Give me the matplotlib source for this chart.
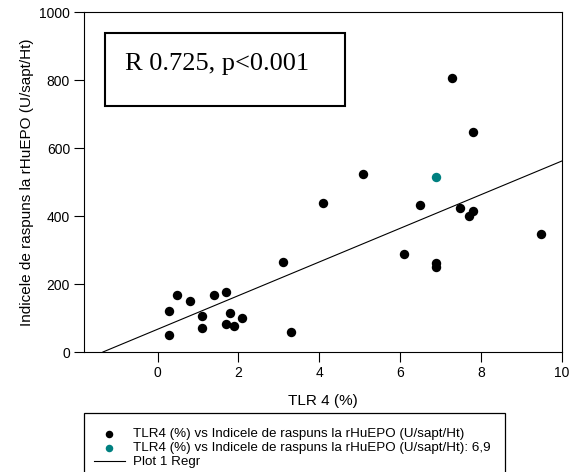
import matplotlib
matplotlib.use("Agg")
import matplotlib.pyplot as plt
import numpy as np

plt.rcParams['font.family'] = ['Liberation Sans', 'DejaVu Sans']

# TLR4 (%) vs response index
tlr4 = [7.29, 7.79, 5.09, 4.09, 6.48, 7.49, 7.79, 7.69, 9.48, 6.09, 6.89, 6.89,
        3.09, 0.49, 0.79, 1.39, 1.69, 0.29, 1.09, 1.79, 2.09, 1.09, 1.69, 1.89,
        0.29, 3.29]
index = [806, 646, 523, 437, 432, 425, 416, 400, 346, 288, 261, 251,
         265, 167, 150, 167, 176, 120, 106, 115, 99, 70, 81, 76,
         49, 60]
tlr4_hl = [6.89]
index_hl = [516]

# regression line
reg_slope = 49.5
reg_intercept = 66.9

W, H = 579, 472
fig = plt.figure(figsize=(W / 100, H / 100), dpi=100)
ax = fig.add_axes([84/W, 1 - 352/H, (562-84)/W, (352-12)/H])

ax.scatter(tlr4, index, s=46, color='black', linewidths=0, zorder=3,
           label='TLR4 (%) vs Indicele de raspuns la rHuEPO (U/sapt/Ht)')
ax.scatter(tlr4_hl, index_hl, s=46, color='#008080', linewidths=0, zorder=3,
           label='TLR4 (%) vs Indicele de raspuns la rHuEPO (U/sapt/Ht): 6,9')
xr = np.array([-reg_intercept / reg_slope, 10])
ax.plot(xr, reg_intercept + reg_slope * xr, color='black', lw=0.8, label='Plot 1 Regr')

ax.set_xlim(-1.82, 10)
ax.set_ylim(0, 1000)
ax.set_xticks([0, 2, 4, 6, 8, 10])
ax.set_yticks([0, 200, 400, 600, 800, 1000])
ax.tick_params(labelsize=10, direction='out', length=7, width=0.8, pad=3)
for s in ax.spines.values():
    s.set_linewidth(0.8)

ax.set_xlabel('TLR 4 (%)', fontsize=11, labelpad=10)
ax.set_ylabel('Indicele de raspuns la rHuEPO (U/sapt/Ht)', fontsize=11, labelpad=4)

# annotation box
fig.add_artist(plt.Rectangle((104.7/W, 1 - 106/H), (345.3-104.7)/W, (106-33.3)/H,
                             transform=fig.transFigure, fill=False, lw=1.5, color='black'))
fig.text(125/W, 1 - 70/H, 'R 0.725, p<0.001', family='Liberation Serif',
         fontsize=19, va='baseline', ha='left')

# legend frame (runs past the bottom edge)
fig.add_artist(plt.Rectangle((84/W, -0.05), (505-84)/W, 1 - 413/H + 0.05,
                             transform=fig.transFigure, fill=False, lw=0.9, color='black'))
leg = fig.legend(loc='upper left', bbox_to_anchor=(94/W, 1 - 428/H), frameon=False,
                 fontsize=9.6, handlelength=2.3, handletextpad=0.6, labelspacing=0.12,
                 borderaxespad=0, borderpad=0, markerscale=0.8)

fig.savefig('out.png', dpi=100)
